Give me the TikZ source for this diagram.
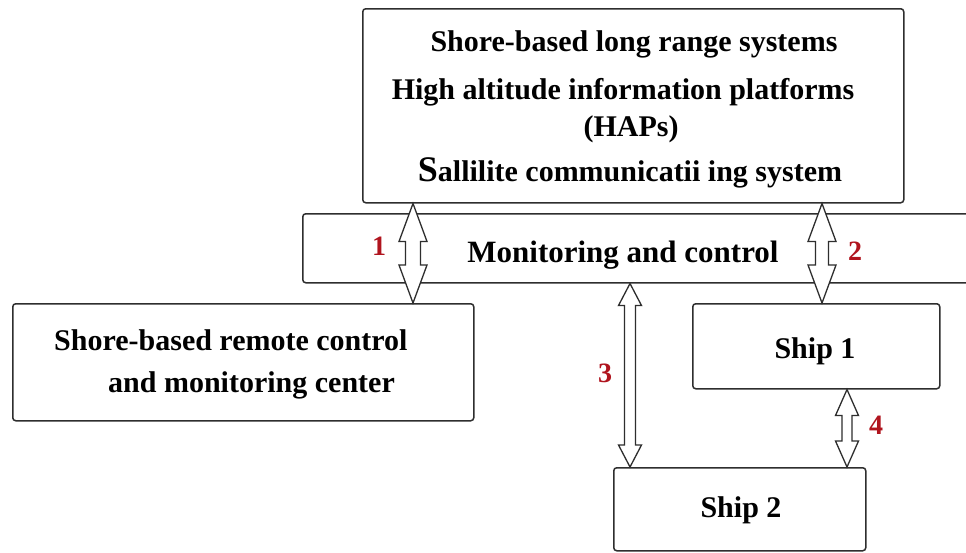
\documentclass[tikz,border=0pt]{standalone}
\usepackage{fontspec}
\setmainfont{Liberation Serif}
\usetikzlibrary{calc}
\definecolor{lbl}{HTML}{B0141E}
\definecolor{edge}{HTML}{2E2E2E}
\tikzset{
  box/.style={draw=edge, line width=1.5pt, rounded corners=3pt, fill=white, inner sep=0pt},
  txt/.style={font=\fontsize{30}{34}\selectfont\bfseries, inner sep=0pt, anchor=base},
  num/.style={font=\fontsize{28}{30}\selectfont\bfseries, text=lbl, inner sep=0pt},
  barrow/.style={draw=edge, line width=1.3pt, fill=white, line join=miter}
}
% #1 start (top) coordinate, #2 end (bottom) coordinate,
% #3 shaft half width, #4 head half width, #5 head length (pt)
\newcommand{\blockarrow}[5]{%
  \draw[barrow] let \p1=(#1), \p2=(#2) in
    (\x1,\y1) -- (\x1+#4pt,\y1-#5pt) -- (\x1+#3pt,\y1-#5pt)
    -- (\x1+#3pt,\y2+#5pt) -- (\x1+#4pt,\y2+#5pt) -- (\x1,\y2)
    -- (\x1-#4pt,\y2+#5pt) -- (\x1-#3pt,\y2+#5pt)
    -- (\x1-#3pt,\y1-#5pt) -- (\x1-#4pt,\y1-#5pt) -- cycle;}
\begin{document}
\begin{tikzpicture}[x=1pt,y=-1pt]
\useasboundingbox (0,0) rectangle (966,552);
\clip (0,0) rectangle (966,552);
\fill[white] (0,0) rectangle (966,552);

% boxes
\node[box, anchor=north west, minimum width=541pt, minimum height=194pt] (top) at (362,8) {};
\node[box, anchor=north west, minimum width=690pt, minimum height=69pt] (bar) at (302,213) {};
\node[box, anchor=north west, minimum width=461pt, minimum height=117pt] (shore) at (12,303) {};
\node[box, anchor=north west, minimum width=247pt, minimum height=85pt] (ship1) at (692,303) {};
\node[box, anchor=north west, minimum width=252pt, minimum height=83pt] (ship2) at (613,467) {};

% texts
\node[txt] (t1) at (634,51) {Shore-based long range systems};
\node[txt] (t2) at (623,99) {High altitude information platforms};
\node[txt] (t3) at (631,136) {(HAPs)};
\node[txt] (t4) at (630,181) {{\fontsize{36}{36}\selectfont S}allilite communicatii ing system};
\node[txt, font=\fontsize{31}{34}\selectfont\bfseries] (tm) at (623,262) {Monitoring and control};
\node[txt, anchor=base west] (s1) at (54,350) {Shore-based remote control};
\node[txt, anchor=base west] (s2) at (108,392) {and monitoring center};
\node[txt] (sh1) at (815,358) {Ship 1};
\node[txt] (sh2) at (741,517) {Ship 2};

% connector end points
\coordinate (a1s) at (413,0 |- top.south);
\coordinate (a1e) at (413,0 |- shore.north);
\coordinate (a2s) at (822,0 |- top.south);
\coordinate (a2e) at (822,0 |- ship1.north);
\coordinate (a3s) at (630,0 |- bar.south);
\coordinate (a3e) at (630,0 |- ship2.north);
\coordinate (a4s) at (847,0 |- ship1.south);
\coordinate (a4e) at (847,0 |- ship2.north);

\blockarrow{a1s}{a1e}{7.5}{14}{38}
\blockarrow{a2s}{a2e}{6.5}{14}{38}
\blockarrow{a3s}{a3e}{5.5}{11.5}{22}
\blockarrow{a4s}{a4e}{5}{11.5}{26}

% labels
\node[num] (n1) at (379,246) {1};
\node[num] (n2) at (855,251) {2};
\node[num] (n3) at (605,373) {3};
\node[num] (n4) at (876,425) {4};
\end{tikzpicture}
\end{document}
